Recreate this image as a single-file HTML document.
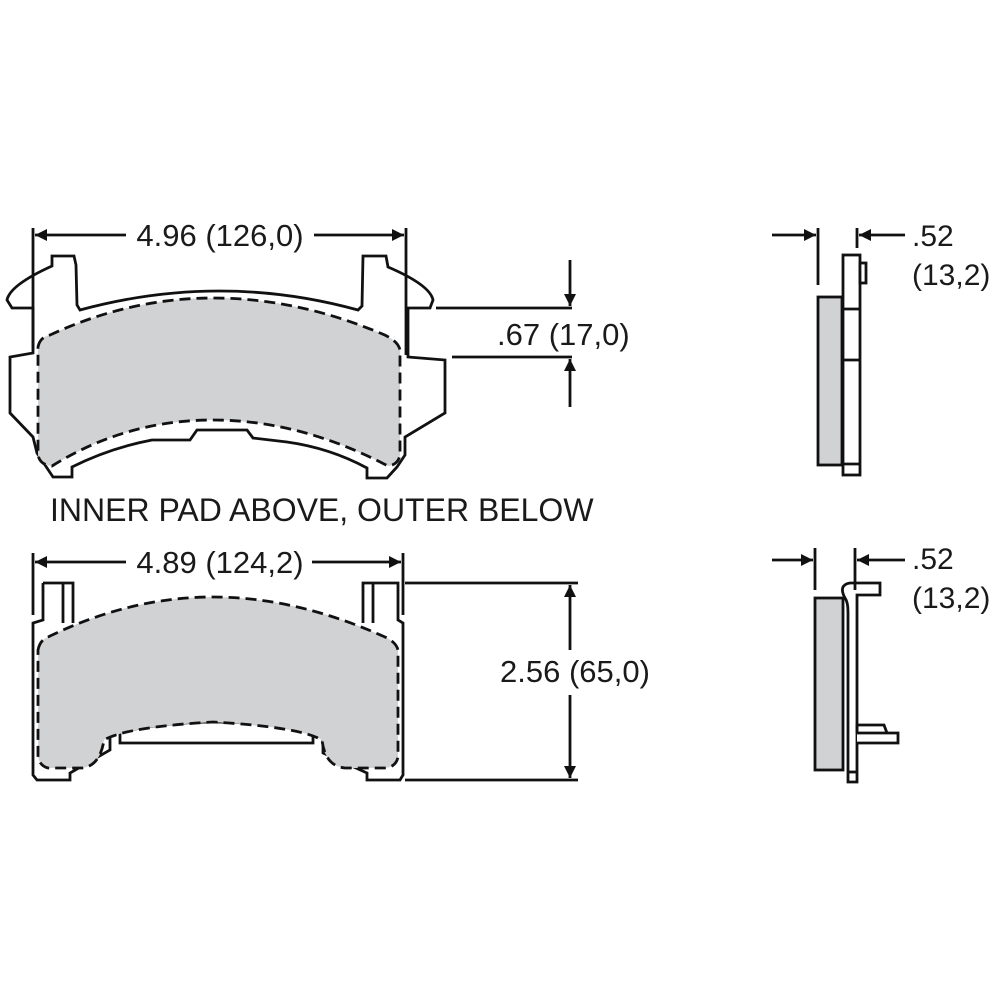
<!DOCTYPE html>
<html><head><meta charset="utf-8"><style>
html,body{margin:0;padding:0;background:#fff;}
svg{display:block;}
text{font-family:"Liberation Sans",Arial,sans-serif;fill:#1a1a1a;}
</style></head><body>
<svg width="1000" height="1000" viewBox="0 0 1000 1000" xmlns="http://www.w3.org/2000/svg">
<defs>
<marker id="ah" viewBox="0 0 10 10" refX="10" refY="5" markerWidth="20" markerHeight="12" markerUnits="userSpaceOnUse" orient="auto">
<path d="M0,0 L10,5 L0,10 z" fill="#111"/></marker>
</defs>
<g stroke="#111" stroke-width="2.8" fill="none">
<line x1="33" y1="228" x2="33" y2="350"/>
<line x1="406" y1="228" x2="406" y2="355"/>
<line x1="126" y1="235" x2="35" y2="235" marker-end="url(#ah)"/>
<line x1="314" y1="235" x2="404" y2="235" marker-end="url(#ah)"/>
<path d="M80,310 Q220,272 358,310 L362,306 L363,256 L386,256 L388,267 Q430,285 433,300 L430,308 L408,308 L408,357 L445,360 L445,413 L405,437 L405,455 L397,467 L387,478 L367,478 L367,468 Q330,448 287,442 L253,438 L247,430 L197,430 L190,440 L152,440 Q110,448 72,467 L72,477 L53,477 L43,462 L37,453 L33,437 L10,413 L10,357 L33,353 L33,308 L12,308 L7,300 Q10,285 52,266 L52,256 L74,256 L76,265 L77,305 Z"/>
<path d="M38,347 Q40,337 50,335 Q130,298 213,298 Q296,298 380,333 Q398,340 400,350 L400,455 Q398,465 388,466 Q300,420 213,420 Q126,420 52,466 Q40,465 38,455 Z" fill="#d1d2d4" stroke-dasharray="11,6"/>
<line x1="436" y1="308" x2="572" y2="308"/>
<line x1="452" y1="357" x2="572" y2="357"/>
<line x1="570" y1="260" x2="570" y2="306" marker-end="url(#ah)"/>
<line x1="570" y1="407" x2="570" y2="359" marker-end="url(#ah)"/>
<line x1="33" y1="553" x2="33" y2="615"/>
<line x1="403" y1="553" x2="403" y2="615"/>
<line x1="126" y1="562" x2="35" y2="562" marker-end="url(#ah)"/>
<line x1="312" y1="562" x2="401" y2="562" marker-end="url(#ah)"/>
<path d="M43,583 L73,583 L73,623 M63,583 L63,623 M43,583 L43,620 L33,623 L33,775 L37,780 L70,780 L70,773 L110,750 L110,735 M110,735 L120,732 L120,743 L313,743 L313,732 L323,735 L323,753 L367,773 L367,780 L400,780 L403,775 L403,623 L398,620 L398,583 L363,583 L363,623 M373,583 L373,623 M120,732 Q213,712 313,732"/>
<path d="M38,650 Q40,640 48,637 Q130,597 213,597 Q296,597 385,637 Q396,642 398,650 L398,757 Q396,767 385,768 L345,768 Q325,766 322,740 Q300,727 213,722 Q126,727 104,740 Q100,766 82,768 L48,768 Q40,766 38,757 Z" fill="#d1d2d4" stroke-dasharray="11,6"/>
<line x1="405" y1="583" x2="578" y2="583"/>
<line x1="405" y1="780" x2="578" y2="780"/>
<line x1="570" y1="660" x2="570" y2="585" marker-end="url(#ah)"/>
<line x1="570" y1="695" x2="570" y2="778" marker-end="url(#ah)"/>
<rect x="818" y="297" width="24" height="168" fill="#d1d2d4"/>
<rect x="843" y="255" width="17" height="220" fill="#fff"/>
<line x1="843" y1="309" x2="860" y2="309"/>
<line x1="843" y1="360" x2="860" y2="360"/>
<line x1="843" y1="464" x2="860" y2="464"/>
<rect x="860" y="263" width="6" height="20" fill="#fff"/>
<line x1="818" y1="228" x2="818" y2="285"/>
<line x1="857" y1="228" x2="857" y2="248"/>
<line x1="772" y1="235" x2="816" y2="235" marker-end="url(#ah)"/>
<line x1="905" y1="235" x2="859" y2="235" marker-end="url(#ah)"/>
<rect x="815" y="598" width="28" height="172" fill="#d1d2d4"/>
<path d="M845,598 Q838,585 850,583 L880,583 L880,595 L857,595 L857,782 L848,782 L848,612 Q848,602 845,598 Z" fill="#fff"/>
<line x1="848" y1="772" x2="857" y2="772"/>
<path d="M857,733 L898,733 L898,743 L857,743" fill="#fff"/>
<path d="M857,733 L857,725 L884,725 L887,733"/>
<line x1="815" y1="548" x2="815" y2="590"/>
<line x1="855" y1="548" x2="855" y2="590"/>
<line x1="772" y1="560" x2="813" y2="560" marker-end="url(#ah)"/>
<line x1="905" y1="560" x2="857" y2="560" marker-end="url(#ah)"/>
</g>
<rect x="488" y="650" width="172" height="40" fill="#fff"/>
<g font-size="31">
<text x="220" y="246" text-anchor="middle">4.96 (126,0)</text>
<text x="497" y="345">.67 (17,0)</text>
<text x="220" y="573" text-anchor="middle">4.89 (124,2)</text>
<text x="575" y="682" text-anchor="middle">2.56 (65,0)</text>
<text x="912" y="246" font-size="30">.52</text>
<text x="912" y="285" font-size="30">(13,2)</text>
<text x="912" y="569" font-size="30">.52</text>
<text x="912" y="608" font-size="30">(13,2)</text>
<text x="50" y="521" font-size="32">INNER PAD ABOVE, OUTER BELOW</text>
</g>
</svg>
</body></html>
